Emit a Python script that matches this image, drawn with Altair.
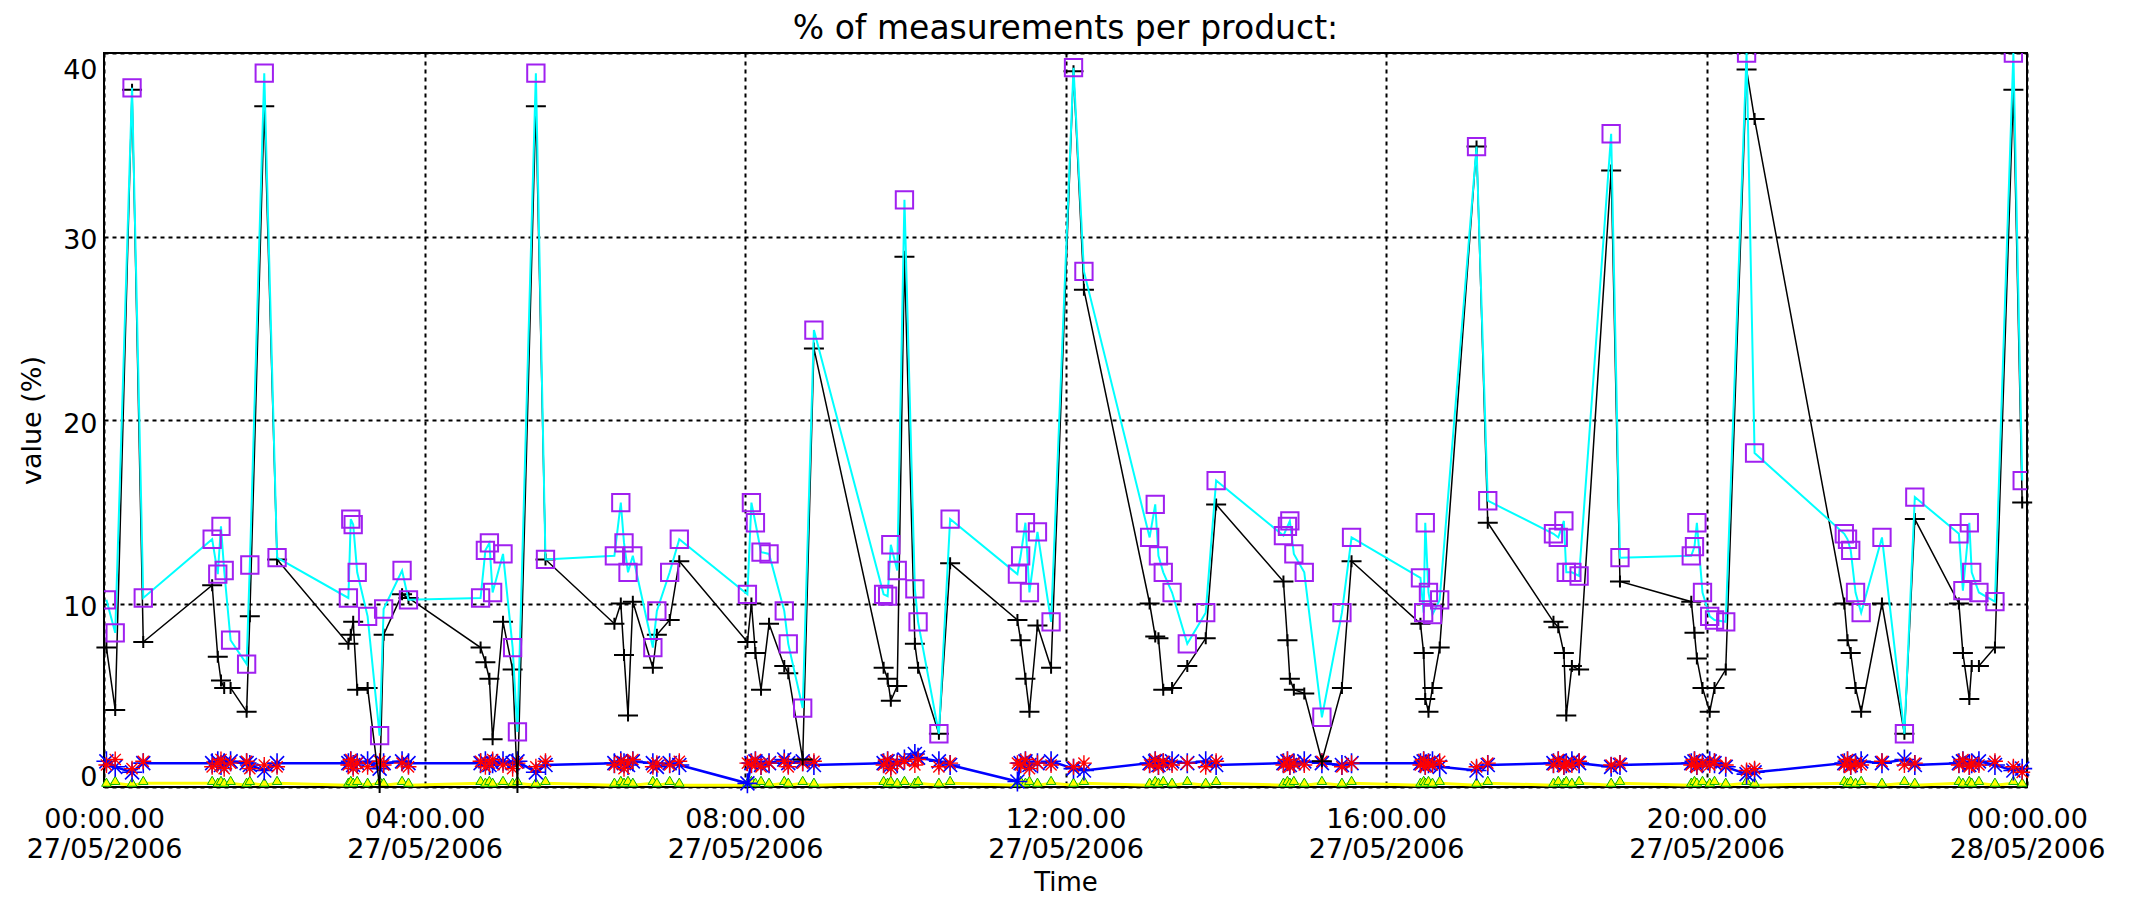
import altair as alt
import pandas as pd

# Measurement times, in hours after 00:00 on 27/05/2006 (one line per burst of measurements)
hours = [
    0.03, 0.14, 0.35, 0.49,
    1.35, 1.42, 1.46, 1.50, 1.58, 1.78, 1.82, 2.00, 2.16,
    3.05, 3.08, 3.11, 3.16, 3.29, 3.44, 3.49, 3.72, 3.80,
    4.70, 4.76, 4.81, 4.85, 4.98, 5.10, 5.16, 5.39, 5.51,
    6.37, 6.45, 6.49, 6.54, 6.60, 6.85, 6.90, 7.06, 7.18,
    8.03, 8.08, 8.13, 8.20, 8.30, 8.49, 8.54, 8.72, 8.86,
    9.73, 9.78, 9.82, 9.90, 9.99, 10.12, 10.16, 10.42, 10.56,
    11.40, 11.44, 11.50, 11.55, 11.65, 11.82, 12.10, 12.23,
    13.05, 13.12, 13.16, 13.22, 13.33, 13.52, 13.75, 13.88,
    14.72, 14.77, 14.80, 14.85, 14.98, 15.20, 15.45, 15.57,
    16.43, 16.47, 16.49, 16.53, 16.58, 16.67, 17.13, 17.27,
    18.09, 18.15, 18.22, 18.25, 18.32, 18.41, 18.81, 18.92,
    19.81, 19.85, 19.88, 19.95, 20.04, 20.10, 20.24, 20.50, 20.60,
    21.72, 21.76, 21.80, 21.86, 21.93, 22.19, 22.47, 22.60,
    23.15, 23.20, 23.28, 23.31, 23.40, 23.60, 23.83, 23.94,
]

cyan_values = [
    10.2, 8.4, 38.1, 10.3,
    13.5, 11.6, 14.2, 11.8, 8.0, 6.7, 12.1, 38.9, 12.5,
    10.3, 14.6, 14.3, 11.7, 9.3, 2.8, 9.7, 11.8, 10.2,
    10.3, 12.9, 13.3, 10.6, 12.7, 7.6, 3.0, 38.9, 12.4,
    12.6, 15.5, 13.3, 11.7, 12.6, 7.6, 9.6, 11.7, 13.5,
    10.5, 15.5, 14.4, 12.8, 12.7, 9.6, 7.8, 4.3, 24.9,
    10.5, 10.4, 13.2, 11.8, 32.0, 10.8, 9.0, 2.9, 14.6,
    11.6, 12.6, 14.4, 10.6, 13.9, 9.0, 39.2, 28.1,
    13.6, 15.4, 12.6, 11.7, 10.6, 7.8, 9.5, 16.7,
    13.7, 14.2, 14.5, 12.7, 11.7, 3.8, 9.5, 13.6,
    11.4, 9.5, 14.4, 10.6, 9.4, 10.2, 34.9, 15.6,
    13.8, 13.6, 14.5, 11.7, 11.7, 11.5, 35.6, 12.5,
    12.6, 13.1, 14.4, 10.6, 9.3, 9.1, 9.0, 40.0, 18.2,
    13.8, 13.5, 12.9, 10.6, 9.5, 13.6, 2.9, 15.8,
    13.8, 10.7, 14.4, 11.7, 10.6, 10.1, 40.0, 16.7,
]

black_values = [
    7.6, 4.2, 38.0, 7.9,
    11.0, 7.1, 5.8, 5.4, 5.4, 4.1, 9.3, 37.1, 12.4,
    7.8, 8.3, 9.0, 5.3, 5.4, 0.0, 8.3, 10.5, 10.3,
    7.6, 6.8, 5.9, 2.6, 9.0, 6.4, 0.0, 37.1, 12.4,
    8.9, 10.0, 7.2, 3.9, 10.1, 6.5, 8.3, 9.1, 12.3,
    7.9, 10.0, 7.3, 5.3, 8.9, 6.6, 6.2, 1.5, 23.9,
    6.5, 5.9, 4.7, 5.5, 28.9, 7.8, 6.5, 2.9, 12.2,
    9.1, 8.0, 5.9, 4.1, 8.8, 6.5, 39.0, 27.1,
    10.0, 8.2, 8.1, 5.3, 5.4, 6.6, 8.1, 15.4,
    11.2, 8.0, 5.9, 5.3, 5.1, 1.4, 5.4, 12.3,
    8.9, 7.3, 4.8, 4.1, 5.4, 7.6, 34.9, 14.4,
    9.0, 8.7, 7.3, 3.9, 6.6, 6.4, 33.6, 11.2,
    10.1, 8.4, 7.0, 5.4, 4.1, 5.4, 6.4, 39.1, 36.4,
    10.0, 8.0, 7.3, 5.4, 4.1, 10.0, 2.9, 14.6,
    10.0, 7.3, 4.8, 6.6, 6.6, 7.6, 38.0, 15.5,
]

blue_values = [
    1.4, 1.1, 0.8, 1.3,
    1.3, 1.4, 1.2, 1.3, 1.4, 1.3, 1.2, 0.9, 1.3,
    1.3, 1.4, 1.2, 1.3, 1.4, 1.0, 1.3, 1.4, 1.3,
    1.3, 1.4, 1.2, 1.3, 1.4, 1.3, 1.4, 0.8, 1.2,
    1.3, 1.4, 1.3, 1.2, 1.4, 1.3, 1.1, 1.3, 1.2,
    0.2, 1.3, 1.4, 1.2, 1.3, 1.5, 1.3, 1.4, 1.2,
    1.3, 1.4, 1.2, 1.3, 1.5, 1.8, 1.6, 1.4, 1.2,
    0.3, 1.3, 1.4, 1.2, 1.3, 1.4, 1.0, 0.9,
    1.3, 1.4, 1.2, 1.3, 1.4, 1.3, 1.4, 1.2,
    1.3, 1.4, 1.2, 1.3, 1.4, 1.3, 1.2, 1.3,
    1.3, 1.4, 1.2, 1.3, 1.4, 1.1, 0.9, 1.2,
    1.3, 1.4, 1.2, 1.3, 1.4, 1.3, 1.1, 1.2,
    1.3, 1.4, 1.2, 1.3, 1.4, 1.3, 1.1, 0.7, 0.8,
    1.3, 1.4, 1.2, 1.3, 1.4, 1.3, 1.5, 1.2,
    1.3, 1.4, 1.2, 1.3, 1.4, 1.2, 0.9, 1.0,
]

red_values = [
    1.2, 1.5, 1.0, 1.4,
    1.1, 1.3, 1.5, 1.0, 1.3, 1.4, 1.0, 1.2, 1.1,
    1.2, 1.5, 1.0, 1.3, 1.1, 1.4, 1.2, 1.3, 1.1,
    1.4, 1.1, 1.3, 1.5, 1.2, 1.0, 1.3, 1.1, 1.4,
    1.2, 1.4, 1.0, 1.3, 1.5, 1.1, 1.3, 1.2, 1.4,
    1.3, 1.2, 1.5, 1.1, 1.3, 1.4, 1.1, 1.3, 1.4,
    1.2, 1.5, 1.0, 1.3, 1.4, 1.2, 1.5, 1.1, 1.3,
    1.3, 1.2, 1.5, 1.0, 1.3, 1.2, 1.1, 1.3,
    1.2, 1.5, 1.1, 1.4, 1.2, 1.3, 1.1, 1.4,
    1.2, 1.5, 1.1, 1.3, 1.2, 1.4, 1.1, 1.3,
    1.2, 1.5, 1.1, 1.3, 1.2, 1.4, 1.1, 1.3,
    1.2, 1.5, 1.1, 1.3, 1.2, 1.4, 1.2, 1.3,
    1.2, 1.5, 1.1, 1.3, 1.2, 1.4, 1.2, 0.9, 1.0,
    1.2, 1.5, 1.1, 1.3, 1.2, 1.4, 1.2, 1.3,
    1.2, 1.5, 1.1, 1.3, 1.2, 1.4, 1.1, 0.8,
]

yellow_values = [
    0.1, 0.2, 0.1, 0.2,
    0.2, 0.1, 0.2, 0.1, 0.2, 0.1, 0.2, 0.1, 0.2,
    0.1, 0.2, 0.1, 0.2, 0.1, 0.2, 0.1, 0.2, 0.1,
    0.2, 0.1, 0.2, 0.1, 0.2, 0.1, 0.2, 0.1, 0.2,
    0.1, 0.2, 0.1, 0.2, 0.1, 0.2, 0.1, 0.2, 0.1,
    0.1, 0.2, 0.1, 0.2, 0.1, 0.2, 0.1, 0.2, 0.1,
    0.2, 0.1, 0.2, 0.1, 0.2, 0.1, 0.2, 0.1, 0.2,
    0.1, 0.2, 0.1, 0.2, 0.1, 0.2, 0.1, 0.2,
    0.1, 0.2, 0.1, 0.2, 0.1, 0.2, 0.1, 0.2,
    0.1, 0.2, 0.1, 0.2, 0.1, 0.2, 0.1, 0.2,
    0.1, 0.2, 0.1, 0.2, 0.1, 0.2, 0.1, 0.2,
    0.1, 0.2, 0.1, 0.2, 0.1, 0.2, 0.1, 0.2,
    0.1, 0.2, 0.1, 0.2, 0.1, 0.2, 0.1, 0.2, 0.1,
    0.2, 0.1, 0.2, 0.1, 0.2, 0.1, 0.2, 0.1,
    0.2, 0.1, 0.2, 0.1, 0.2, 0.1, 0.2, 0.1,
]

tick_hours = [0, 4, 8, 12, 16, 20, 24]
tick_time_labels = ["00:00.00", "04:00.00", "08:00.00", "12:00.00",
                    "16:00.00", "20:00.00", "00:00.00"]
tick_date_labels = ["27/05/2006", "27/05/2006", "27/05/2006", "27/05/2006",
                    "27/05/2006", "27/05/2006", "28/05/2006"]
y_ticks = [0, 10, 20, 30, 40]

TITLE = "% of measurements per product:"
X_TITLE = "Time"
Y_TITLE = "value (%)"

for arr in (cyan_values, black_values, blue_values, red_values, yellow_values):
    assert len(arr) == len(hours)

FONT = "DejaVu Sans"
W, H = 1923, 734
ASTER = "M-1,0L1,0M0,-1L0,1M-0.7,-0.7L0.7,0.7M-0.7,0.7L0.7,-0.7"
PLUS = "M-1,0L1,0M0,-0.6L0,0.6"


def js_list(items):
    return "[" + ",".join(repr(i) if isinstance(i, str) else str(i) for i in items) + "]"


idx = f"indexof({js_list(tick_hours)}, datum.value)"
label_expr = f"[{js_list(tick_time_labels)}[{idx}], {js_list(tick_date_labels)}[{idx}]]"


def frame(values):
    return pd.DataFrame({"hour": hours, "value": values})


x_enc = alt.X(
    "hour:Q",
    scale=alt.Scale(domain=[0, 24], nice=False, zero=False),
    axis=alt.Axis(
        values=tick_hours, labelExpr=label_expr, title=X_TITLE,
        grid=True, gridDash=[4, 4], gridColor="black", gridWidth=2, gridOpacity=1,
        domain=False, ticks=False, tickSize=0, labelPadding=19,
        labelFont=FONT, labelFontSize=27, labelLineHeight=30, labelColor="black",
        labelFlush=False, labelOverlap=False, labelBound=False,
        titleFont=FONT, titleFontSize=26, titleFontWeight="normal", titleColor="black",
        titleX=W / 2, titleY=95, titleAlign="center", titleBaseline="middle",
    ),
)

y_enc = alt.Y(
    "value:Q",
    scale=alt.Scale(domain=[0, 40], nice=False),
    axis=alt.Axis(
        values=y_ticks, title=Y_TITLE,
        grid=True, gridDash=[4, 4], gridColor="black", gridWidth=2, gridOpacity=1,
        domain=False, ticks=False, tickSize=0, labelPadding=7,
        labelFont=FONT, labelFontSize=27, labelColor="black",
        labelFlush=True, labelOffset=4,
        titleFont=FONT, titleFontSize=27, titleFontWeight="normal", titleColor="black",
        titleX=-72, titleY=H / 2, titleAngle=270, titleAlign="center", titleBaseline="middle",
    ),
)

d_cyan = frame(cyan_values)
d_black = frame(black_values)
d_blue = frame(blue_values)
d_red = frame(red_values)
d_yellow = frame(yellow_values)
d_title = pd.DataFrame({"label": [TITLE]})

layers = [
    alt.Chart(d_yellow).mark_line(color="#FFFF00", strokeWidth=3).encode(x=x_enc, y=y_enc),
    alt.Chart(d_yellow).mark_point(shape="triangle-up", filled=True, fill="#FFFF00",
                                   stroke="#00B000", strokeWidth=1, size=90, opacity=1,
                                   yOffset=-3).encode(x=x_enc, y=y_enc),
    alt.Chart(d_blue).mark_line(color="#0000FF", strokeWidth=2.5).encode(x=x_enc, y=y_enc),
    alt.Chart(d_blue).mark_point(shape=ASTER, filled=False, color="#0000FF",
                                 strokeWidth=1.6, size=400, opacity=1).encode(x=x_enc, y=y_enc),
    alt.Chart(d_red).mark_point(shape=ASTER, filled=False, color="#FF0000",
                                strokeWidth=1.4, size=256, opacity=1).encode(x=x_enc, y=y_enc),
    alt.Chart(d_black).mark_line(color="black", strokeWidth=1.5).encode(x=x_enc, y=y_enc),
    alt.Chart(d_black).mark_point(shape=PLUS, filled=False, color="black",
                                  strokeWidth=2, size=400, opacity=1).encode(x=x_enc, y=y_enc),
    alt.Chart(d_cyan).mark_line(color="#00FFFF", strokeWidth=2).encode(x=x_enc, y=y_enc),
    alt.Chart(d_cyan).mark_point(shape="square", filled=False, color="#A020F0",
                                 strokeWidth=2, size=300, opacity=1, clip=True).encode(x=x_enc, y=y_enc),
    alt.Chart(d_title).mark_text(font=FONT, fontSize=33, color="black", align="center",
                                 baseline="alphabetic").encode(
        x=alt.value(W / 2), y=alt.value(-14), text="label:N"),
]

chart = alt.layer(*layers).properties(
    width=W,
    height=H,
    background="white",
    padding={"left": 96, "top": 45, "right": 88, "bottom": 113},
    autosize=alt.AutoSizeParams(type="none"),
).configure_view(stroke="black", strokeWidth=2)

chart.save("out.html", embed_options={"renderer": "svg", "actions": False})
